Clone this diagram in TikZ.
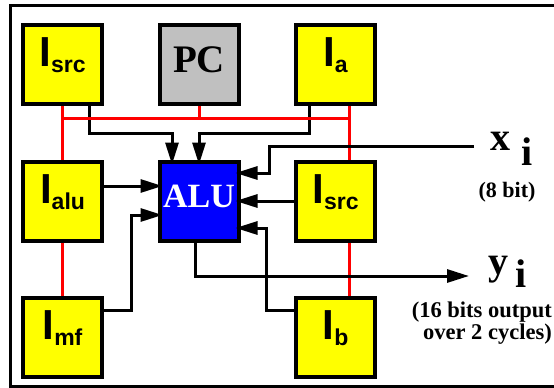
\documentclass[tikz,border=0pt]{standalone}
\usepackage{fontspec}
\setmainfont{Liberation Serif}
\setsansfont{Liberation Sans}
\usepackage{tikz}
\usetikzlibrary{arrows.meta}
\usepackage{xcolor}
\definecolor{regyellow}{RGB}{255,255,0}
\definecolor{pcgray}{RGB}{192,192,192}
\definecolor{alublue}{RGB}{0,0,255}
\definecolor{busred}{RGB}{255,0,0}

% register label: big I with a lowered suffix
\newcommand{\regname}[1]{{\fontsize{42}{42}\selectfont I}\raisebox{-6pt}{\fontsize{23}{23}\selectfont #1}}

\begin{document}
\begin{tikzpicture}[
    x=1pt, y=-1pt,
    node distance=136.5pt,
    box/.style={rectangle, draw=black, line width=4pt, minimum size=79pt,
        inner sep=0pt},
    reg/.style={box, fill=regyellow, font=\sffamily\bfseries,
        text height=30pt, text depth=26pt},
    pcbox/.style={box, fill=pcgray, font=\fontsize{39}{39}\selectfont\bfseries,
        text height=26pt, text depth=11pt},
    alubox/.style={box, fill=alublue, text=white,
        font=\fontsize{34}{34}\selectfont\bfseries,
        text height=22.5pt, text depth=9pt},
    sig/.style={line width=3pt, black},
    arrow/.style={sig, -{Triangle[length=22pt, width=13pt]}},
    into/.style={arrow, shorten >=-5pt},
    bus/.style={line width=3pt, busred},
    lbl/.style={font=\fontsize{40}{40}\selectfont\bfseries, inner sep=0pt},
    notetext/.style={font=\fontsize{22.5}{22.5}\selectfont\bfseries, inner sep=0pt}
]
    \useasboundingbox (0,0) rectangle (554,388);
    \draw[line width=3pt] (554,5) -- (10,5) -- (10,386) -- (554,386);

    \node[reg] (srcA) at (62.5,64.5) {\regname{src}};
    \node[pcbox, right of=srcA] (pc) {PC};
    \node[reg, right of=pc] (ia) {\regname{a}};
    \node[reg, below of=srcA] (ialu) {\regname{alu}};
    \node[alubox, right of=ialu] (alu) {ALU};
    \node[reg, right of=alu] (srcB) {\regname{src}};
    \node[reg, below of=ialu] (imf) {\regname{mf}};
    \node[reg, below of=srcB] (ib) {\regname{b}};

    % inputs from the top row
    \draw[into] ([xshift=26.5pt]srcA.south) |- ([xshift=-27pt,yshift=26pt]alu.north)
        -- ([xshift=-27pt]alu.north);
    \draw[into] ([xshift=-26.5pt]ia.south) |- ([yshift=26pt]alu.north) -- (alu.north);

    % red bus
    \coordinate (busL) at ([yshift=-12pt]srcA.south);
    \coordinate (busR) at ([xshift=13.5pt,yshift=-12pt]ia.south);
    \draw[bus] (busL) -- (busR);
    \draw[bus] (pc.south) -- (pc.south |- busL);
    \draw[bus] (srcA.south) -- (ialu.north);
    \draw[bus] (ialu.south) -- (imf.north);
    \draw[bus] ([xshift=13.5pt]ia.south) -- ([xshift=13.5pt]srcB.north);
    \draw[bus] ([xshift=13.5pt]srcB.south) -- ([xshift=13.5pt]ib.north);

    % other ALU inputs
    \coordinate (xin) at (474,146);
    \draw[into] (xin) -| ([xshift=29pt,yshift=28pt]alu.east) -- ([yshift=28pt]alu.east);
    \draw[into] (srcB.west) -- (alu.east);
    \draw[into] ([yshift=27pt]ib.west) -| ([xshift=26pt,yshift=-27pt]alu.east)
        -- ([yshift=-27pt]alu.east);
    \draw[into] ([yshift=15pt]ialu.east) -- ([yshift=15pt]alu.west);
    \draw[into] ([yshift=27pt]imf.east) -| ([xshift=-26pt,yshift=-14pt]alu.west)
        -- ([yshift=-14pt]alu.west);

    % ALU output
    \coordinate (yout) at (469,276);
    \draw[arrow] ([xshift=-4pt]alu.south) |- (yout);

    \node[lbl, anchor=base west] (xlbl) at (490,150) {x\hspace{11pt}\raisebox{-15pt}{i}};
    \node[notetext, anchor=base, font=\fontsize{22}{22}\selectfont\bfseries] (xnote) at (507,197) {(8 bit)};
    \node[lbl, anchor=base west] (ylbl) at (488,274) {y\hspace{7pt}\raisebox{-13pt}{i}};
    \node[notetext, anchor=base east] (ynote1) at (552,317) {(16 bits output};
    \node[notetext, anchor=base east] (ynote2) at (552,339) {over 2 cycles)};
\end{tikzpicture}
\end{document}
